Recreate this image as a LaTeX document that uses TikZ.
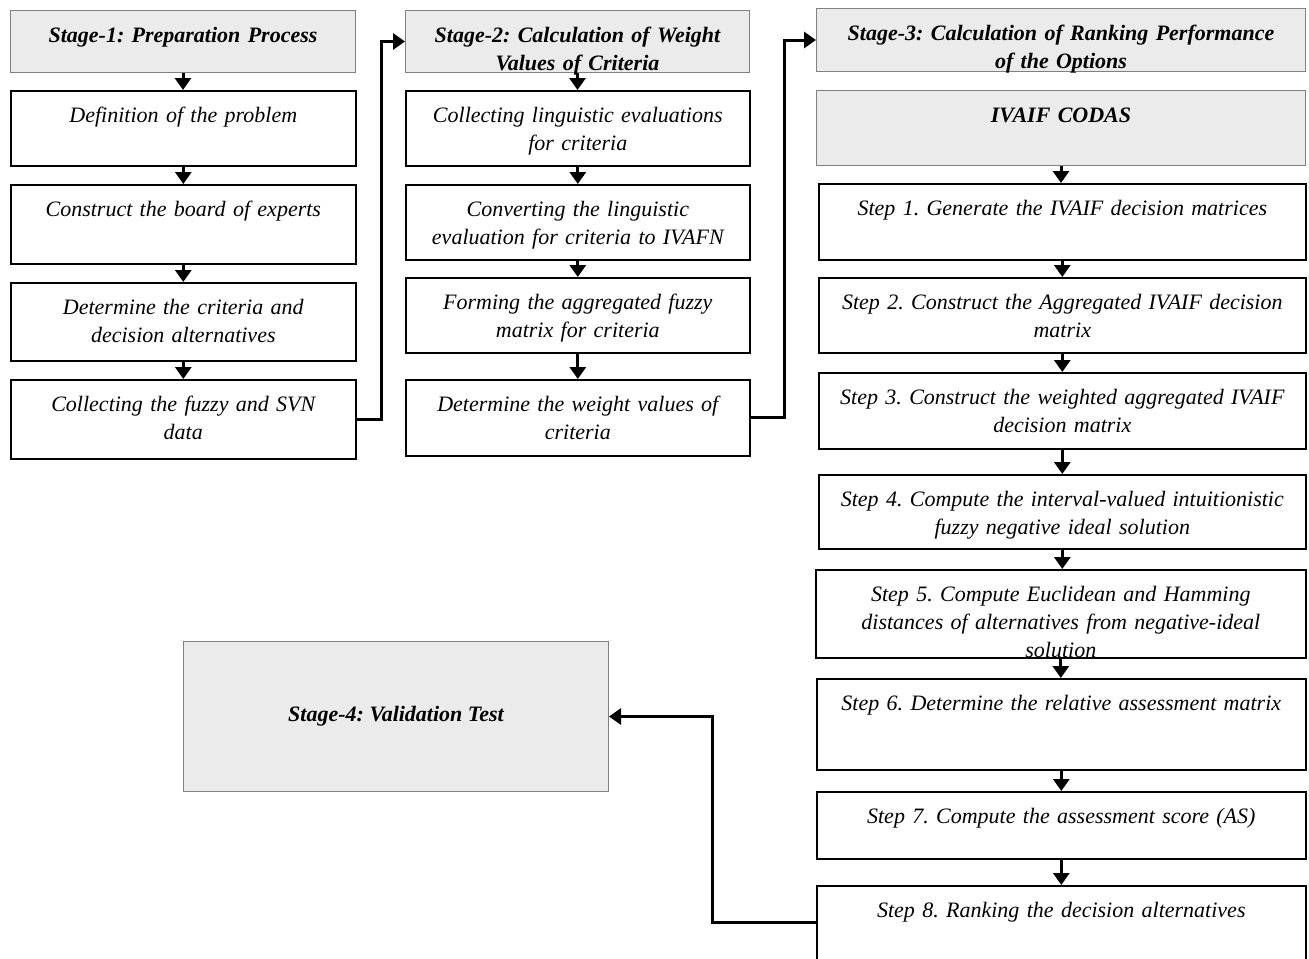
\documentclass[tikz,border=0pt]{standalone}
\usepackage{fontspec}
\setmainfont{Liberation Serif}
\usepackage{xcolor}
\usepackage{tikz}
\usetikzlibrary{arrows.meta,positioning}
\frenchspacing
\definecolor{hdrgray}{HTML}{EBEBEB}
\tikzstyle{block} = [rectangle, draw, line width=0.8pt, font=\fontsize{11}{14}\selectfont\itshape]
\tikzstyle{greybox} = [rectangle, draw=gray, line width=0.5pt, fill=hdrgray, font=\fontsize{11}{14}\selectfont\bfseries\itshape]
\tikzstyle{toptext} = [inner sep=0pt, text height=16pt, align=center, anchor=north west]
\tikzstyle{arr} = [-{Triangle[width=8pt,length=6pt]}, line width=1.5pt]

\begin{document}
\begin{tikzpicture}[x=0.5pt, y=-0.5pt]
	\useasboundingbox (0,0) rectangle (1309,958);
	% stage 1
	\node[greybox, toptext, text width=172.5pt, text depth=15pt] (s1) at (10,10) {Stage-1: Preparation Process};
	\node[block, toptext, text width=172.5pt, text depth=21.5pt] (c1a) at (10,90) {Definition of the problem};
	\node[block, toptext, text width=172.5pt, text depth=23.5pt] (c1b) at (10,184) {Construct the board of experts};
	\node[block, toptext, text width=172.5pt, text depth=23pt] (c1c) at (10,282) {Determine the criteria and\\ decision alternatives};
	\node[block, toptext, text width=172.5pt, text depth=23.5pt] (c1d) at (10,379) {Collecting the fuzzy and SVN\\ data};
	% stage 2
	\node[greybox, toptext, text width=172pt, text depth=15pt] (s2) at (405,10) {Stage-2: Calculation of Weight\\ Values of Criteria};
	\node[block, toptext, text width=172pt, text depth=21.5pt] (c2a) at (405,90) {Collecting linguistic evaluations\\ for criteria};
	\node[block, toptext, text width=172pt, text depth=21.5pt] (c2b) at (405,184) {Converting the linguistic\\ evaluation for criteria to IVAFN};
	\node[block, toptext, text width=172pt, text depth=21.5pt] (c2c) at (405,277) {Forming the aggregated fuzzy\\ matrix for criteria};
	\node[block, toptext, text width=172pt, text depth=22pt] (c2d) at (405,379) {Determine the weight values of\\ criteria};
	% stage 3
	\node[greybox, toptext, text width=244.5pt, text depth=15.5pt] (s3) at (816,8) {Stage-3: Calculation of Ranking Performance\\ of the Options};
	\node[greybox, toptext, text width=244.5pt, text depth=21.5pt] (codas) at (816,90) {IVAIF CODAS};
	\node[block, toptext, text width=243.5pt, text depth=22pt] (st1) at (818,183) {Step 1. Generate the IVAIF decision matrices};
	\node[block, toptext, text width=243.5pt, text depth=21.5pt] (st2) at (818,277) {Step 2. Construct the Aggregated IVAIF decision\\ matrix};
	\node[block, toptext, text width=243.5pt, text depth=22pt] (st3) at (818,372) {Step 3. Construct the weighted aggregated IVAIF\\ decision matrix};
	\node[block, toptext, text width=243.5pt, text depth=21pt] (st4) at (818,474) {Step 4. Compute the interval-valued intuitionistic\\ fuzzy negative ideal solution};
	\node[block, toptext, text width=245pt, text depth=28pt] (st5) at (815,569) {Step 5. Compute Euclidean and Hamming\\ distances of alternatives from negative-ideal\\ solution};
	\node[block, toptext, text width=244.5pt, text depth=29.5pt] (st6) at (816,678) {Step 6. Determine the relative assessment matrix};
	\node[block, toptext, text width=244.5pt, text depth=17.5pt] (st7) at (816,791) {Step 7. Compute the assessment score (AS)};
	\node[block, toptext, text width=244.5pt, text depth=21pt] (st8) at (816,885) {Step 8. Ranking the decision alternatives};
	% stage 4
	\node[greybox, minimum width=212.5pt, minimum height=75pt, anchor=north west] (s4) at (183,641) {Stage-4: Validation Test};

	\foreach \a/\b in {s1/c1a, c1a/c1b, c1b/c1c, c1c/c1d, s2/c2a, c2a/c2b, c2b/c2c, c2c/c2d, codas/st1, st1/st2, st2/st3, st3/st4, st4/st5, st5/st6, st6/st7, st7/st8}
		\draw[arr] (\a.south) -- (\a.south |- \b.north);
	\draw[arr] (c1d.east) -- ++(25,0) |- (s2.west);
	\draw[arr] (c2d.east) -- ++(34,0) |- (s3.west);
	\draw[arr] (st8.west) -- ++(-104,0) |- (s4.east);
\end{tikzpicture}
\end{document}
